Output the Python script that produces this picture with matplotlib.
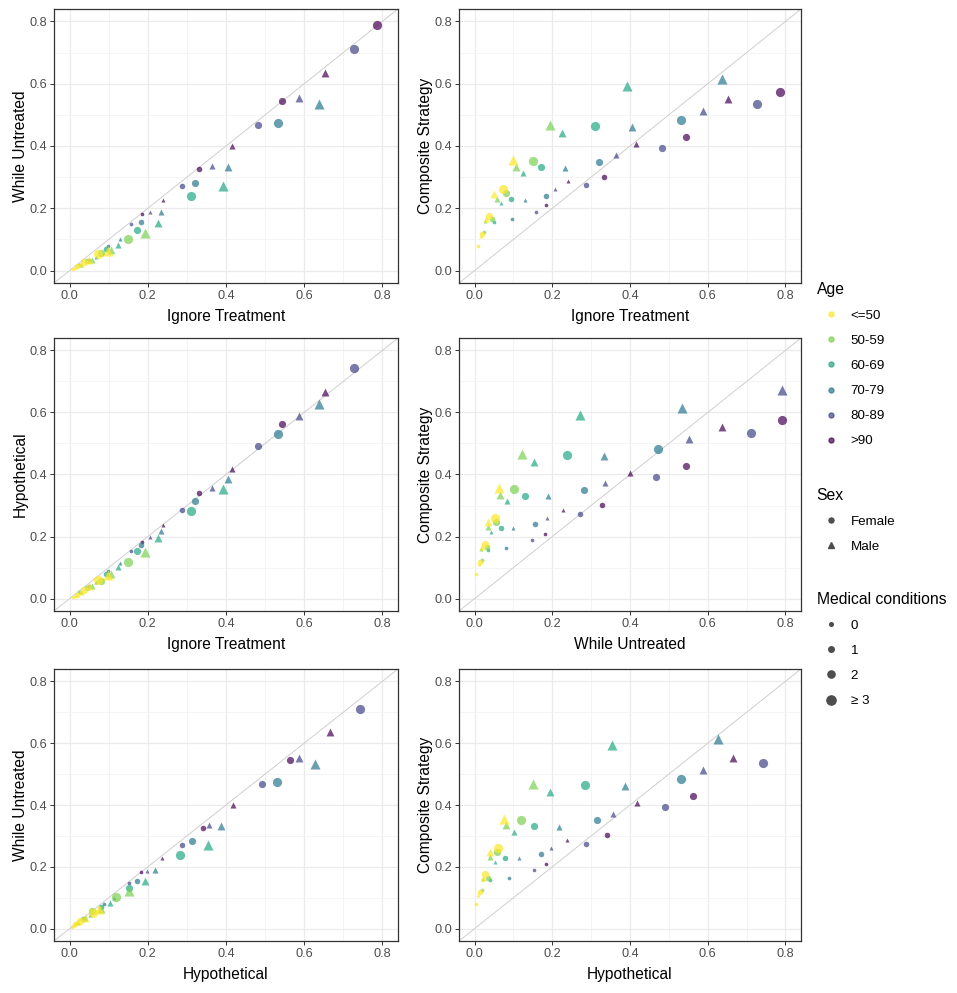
import matplotlib
matplotlib.use("Agg")
import matplotlib.pyplot as plt
from matplotlib.lines import Line2D
import numpy as np

plt.rcParams["font.family"] = ["Liberation Sans", "DejaVu Sans"]

# one row per subgroup: age band, sex, number of medical conditions (3 = ">= 3")
age = ([">90"] * 7 + ["80-89"] * 8 + ["70-79"] * 8 + ["60-69"] * 8
       + ["50-59"] * 8 + ["<=50"] * 8)
sex = (["F", "F", "F", "F", "M", "M", "M"]
       + ["F", "F", "F", "F", "M", "M", "M", "M"] * 5)
med = ([0, 1, 2, 3, 0, 1, 2] + [0, 1, 2, 3, 0, 1, 2, 3] * 5)

ignore_tx = [0.185, 0.332, 0.544, 0.787, 0.240, 0.415, 0.652,
             0.158, 0.287, 0.483, 0.727, 0.206, 0.363, 0.587, 0.850,
             0.097, 0.183, 0.320, 0.532, 0.130, 0.233, 0.405, 0.638,
             0.050, 0.094, 0.172, 0.310, 0.068, 0.124, 0.225, 0.393,
             0.025, 0.045, 0.080, 0.150, 0.028, 0.058, 0.106, 0.193,
             0.008, 0.020, 0.036, 0.072, 0.017, 0.030, 0.050, 0.098]
while_untx = [0.182, 0.327, 0.545, 0.790, 0.228, 0.400, 0.636,
              0.149, 0.272, 0.467, 0.712, 0.187, 0.336, 0.553, 0.790,
              0.080, 0.155, 0.282, 0.473, 0.100, 0.189, 0.333, 0.534,
              0.035, 0.069, 0.130, 0.238, 0.043, 0.083, 0.153, 0.271,
              0.018, 0.032, 0.056, 0.102, 0.017, 0.034, 0.065, 0.122,
              0.005, 0.014, 0.026, 0.052, 0.011, 0.020, 0.034, 0.064]
hypothetical = [0.183, 0.340, 0.563, 0.860, 0.237, 0.418, 0.665,
                0.153, 0.287, 0.491, 0.743, 0.198, 0.357, 0.587, 0.870,
                0.089, 0.172, 0.314, 0.530, 0.114, 0.218, 0.387, 0.627,
                0.039, 0.079, 0.152, 0.283, 0.052, 0.102, 0.194, 0.353,
                0.020, 0.034, 0.058, 0.119, 0.022, 0.039, 0.080, 0.151,
                0.005, 0.013, 0.027, 0.060, 0.010, 0.022, 0.040, 0.075]
composite = [0.209, 0.302, 0.429, 0.575, 0.286, 0.406, 0.552,
             0.189, 0.274, 0.392, 0.535, 0.261, 0.372, 0.513, 0.672,
             0.164, 0.241, 0.350, 0.483, 0.227, 0.330, 0.461, 0.615,
             0.157, 0.229, 0.332, 0.464, 0.216, 0.313, 0.441, 0.593,
             0.125, 0.165, 0.248, 0.352, 0.160, 0.231, 0.334, 0.467,
             0.080, 0.118, 0.176, 0.261, 0.110, 0.165, 0.247, 0.356]

age_levels = ["<=50", "50-59", "60-69", "70-79", "80-89", ">90"]
age_colors = ["#FDE725", "#7AD151", "#22A884", "#2A788E", "#414487", "#440154"]
med_labels = ["0", "1", "2", "\u2265 3"]
med_sizes = [7, 16, 27, 44]

strategies = {
    "Ignore Treatment": ignore_tx,
    "While Untreated": while_untx,
    "Hypothetical": hypothetical,
    "Composite Strategy": composite,
}
pairs = [
    ("Ignore Treatment", "While Untreated"),
    ("Ignore Treatment", "Composite Strategy"),
    ("Ignore Treatment", "Hypothetical"),
    ("While Untreated", "Composite Strategy"),
    ("Hypothetical", "While Untreated"),
    ("Hypothetical", "Composite Strategy"),
]

W, H = 957, 993
fig = plt.figure(figsize=(W / 100, H / 100), dpi=100)

col_x = [54, 459]
col_w = [344, 342]
row_y = [(9, 283), (338, 611), (669, 941)]

alpha = 0.7
for i, (xn, yn) in enumerate(pairs):
    r, c = divmod(i, 2)
    top, bot = row_y[r]
    ax = fig.add_axes([col_x[c] / W, 1 - bot / H, col_w[c] / W, (bot - top) / H])
    x = np.array(strategies[xn])
    y = np.array(strategies[yn])
    # like ggplot limits: subgroups outside 0..0.8 are dropped
    keep = (x >= 0) & (x <= 0.8) & (y >= 0) & (y <= 0.8)
    ax.axline((0, 0), slope=1, color="#CFCFCF", lw=0.7, zorder=1)
    for k in np.where(keep)[0]:
        col = age_colors[age_levels.index(age[k])]
        mk = "o" if sex[k] == "F" else "^"
        s = med_sizes[med[k]] * (1.0 if mk == "o" else 1.2)
        ax.scatter(x[k], y[k], s=s, marker=mk, color=col, alpha=alpha,
                   linewidths=0, zorder=3)
    ax.set_xlim(-0.04, 0.84)
    ax.set_ylim(-0.04, 0.84)
    ticks = [0.0, 0.2, 0.4, 0.6, 0.8]
    ax.set_xticks(ticks)
    ax.set_yticks(ticks)
    ax.set_xticks([0.1, 0.3, 0.5, 0.7], minor=True)
    ax.set_yticks([0.1, 0.3, 0.5, 0.7], minor=True)
    ax.set_xticklabels([f"{t:.1f}" for t in ticks])
    ax.set_yticklabels([f"{t:.1f}" for t in ticks])
    ax.grid(which="major", color="#EBEBEB", lw=0.9)
    ax.grid(which="minor", color="#F2F2F2", lw=0.6)
    ax.set_axisbelow(True)
    ax.tick_params(which="major", length=3, width=0.7, color="#333333",
                   labelsize=9.2, labelcolor="#4D4D4D", pad=2)
    ax.tick_params(which="minor", length=0)
    for sp in ax.spines.values():
        sp.set_color("#333333")
        sp.set_linewidth(0.9)
    ax.set_xlabel(xn, fontsize=11.2, labelpad=5)
    ax.set_ylabel(yn, fontsize=11.2, labelpad=1)

key_grey = "#4D4D4D"
age_handles = [Line2D([], [], ls="", marker="o", markersize=3.6, color=c, alpha=alpha)
               for c in age_colors]
sex_handles = [Line2D([], [], ls="", marker="o", markersize=3.6, color=key_grey),
               Line2D([], [], ls="", marker="^", markersize=3.9, color=key_grey)]
med_handles = [Line2D([], [], ls="", marker="o", markersize=np.sqrt(s), color=key_grey)
               for s in med_sizes]

common = dict(frameon=False, fontsize=9.6, title_fontsize=11.3, alignment="left",
              handlelength=2.1, handletextpad=0.45, labelspacing=0.96,
              borderpad=0.5, borderaxespad=0, numpoints=1)
fig.legend(age_handles, age_levels, title="Age", loc="upper left",
           bbox_to_anchor=(810 / W, 1 - 275 / H), **common)
fig.legend(sex_handles, ["Female", "Male"], title="Sex", loc="upper left",
           bbox_to_anchor=(810 / W, 1 - 481 / H), **common)
fig.legend(med_handles, med_labels, title="Medical conditions", loc="upper left",
           bbox_to_anchor=(810 / W, 1 - 585 / H), **common)

fig.savefig("out.png", dpi=100)
